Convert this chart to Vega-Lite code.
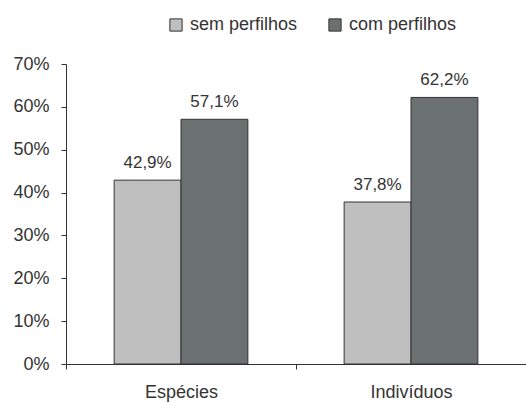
{
  "$schema": "https://vega.github.io/schema/vega-lite/v6.json",
  "width": 460,
  "height": 300,
  "autosize": {"type": "none"},
  "padding": {"left": 66, "top": 64, "right": 0, "bottom": 40},
  "background": "white",
  "config": {
    "view": {"stroke": null},
    "font": "Liberation Sans",
    "text": {"font": "Liberation Sans"}
  },
  "data": {
    "values": [
      {"cat": "Espécies", "grupo": "sem perfilhos", "v": 42.9, "label": "42,9%"},
      {"cat": "Espécies", "grupo": "com perfilhos", "v": 57.1, "label": "57,1%"},
      {"cat": "Indivíduos", "grupo": "sem perfilhos", "v": 37.8, "label": "37,8%"},
      {"cat": "Indivíduos", "grupo": "com perfilhos", "v": 62.2, "label": "62,2%"}
    ]
  },
  "encoding": {
    "x": {
      "field": "cat", "type": "nominal", "sort": ["Espécies", "Indivíduos"],
      "scale": {"paddingInner": 0, "paddingOuter": 0},
      "axis": {
        "title": null, "labelAngle": 0, "tickBand": "extent", "domainColor": "#333", "tickColor": "#333",
        "tickSize": 5, "labelPadding": 14, "labelFontSize": 18, "labelColor": "#333", "grid": false
      }
    },
    "xOffset": {
      "field": "grupo", "type": "nominal", "sort": ["sem perfilhos", "com perfilhos"],
      "scale": {"paddingInner": 0, "paddingOuter": 0.72}
    },
    "y": {
      "field": "v", "type": "quantitative",
      "scale": {"domain": [0, 70]},
      "axis": {
        "title": null, "values": [0, 10, 20, 30, 40, 50, 60, 70], "labelExpr": "datum.value + '%'",
        "grid": false, "domainColor": "#333", "tickColor": "#333", "tickSize": 5, "labelPadding": 12,
        "labelFontSize": 18, "labelColor": "#333"
      }
    }
  },
  "layer": [
    {
      "mark": {"type": "bar", "stroke": "#333", "strokeWidth": 1},
      "encoding": {
        "color": {
          "field": "grupo", "type": "nominal", "sort": ["sem perfilhos", "com perfilhos"],
          "scale": {"domain": ["sem perfilhos", "com perfilhos"], "range": ["#bfbfbf", "#6b7170"]},
          "legend": {
            "title": null, "orient": "none", "direction": "horizontal", "legendX": 101, "legendY": -48,
            "symbolType": "square", "symbolSize": 150, "symbolStrokeColor": "#333", "symbolStrokeWidth": 1,
            "labelFontSize": 18, "labelColor": "#333", "columnPadding": 28, "labelOffset": 5, "symbolOpacity": 1
          }
        }
      }
    },
    {
      "mark": {"type": "text", "baseline": "bottom", "dy": -8, "fontSize": 17, "color": "#333"},
      "encoding": {"text": {"field": "label"}}
    }
  ]
}
